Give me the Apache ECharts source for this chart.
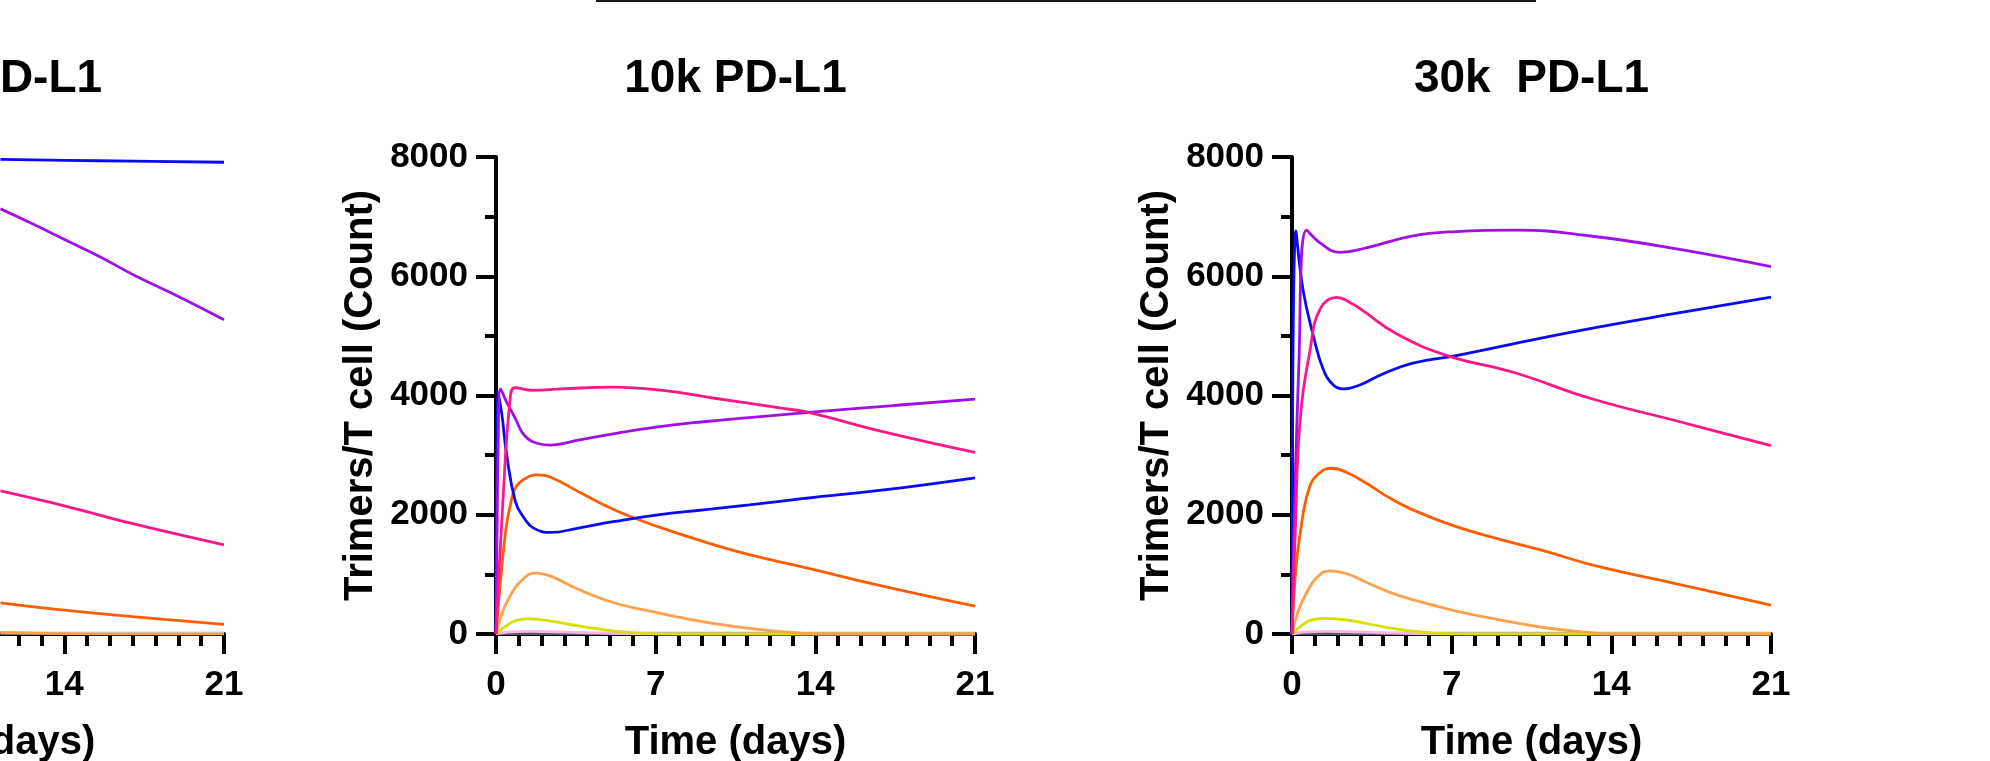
<!DOCTYPE html>
<html>
<head>
<meta charset="utf-8">
<script src="https://cdn.jsdelivr.net/npm/echarts@6/dist/echarts.min.js"></script>
<style>
html,body{margin:0;padding:0;background:#fff;}
#chart{width:1990px;height:761px;}
</style>
</head>
<body>
<div id="chart"></div>
<script>
// ---------- tick labels / titles ----------
const panelTitles = ['60k  PD-L1', '10k PD-L1', '30k  PD-L1'];
const xTicks = [0, 7, 14, 21];
const yTicks = [0, 2000, 4000, 6000, 8000];
const xName = 'Time (days)';
const yName = 'Trimers/T cell (Count)';

// ---------- panel 1 (left, partly visible) : [day, count] ----------
const p1_blue = [[11.2, 7960], [14, 7945], [17, 7930], [21, 7912]];
const p1_purple = [[11.2, 7130], [12.6, 6880], [14.1, 6600], [15.6, 6320], [17, 6030], [19, 5660], [21, 5270]];
const p1_pink = [[11.2, 2400], [14, 2150], [17, 1850], [21, 1495]];
const p1_orange = [[11.2, 522], [14, 400], [17, 290], [21, 160]];
const p1_lightOrange = [[11.2, 25], [14, 6], [16, 0], [21, 0]];
const p1_lightBlue = [[11.2, 15], [21, 15]];

// ---------- panel 2 : 10k PD-L1 ----------
const p2_blue = [[0, 0], [0.05, 4080], [0.25, 3700], [0.45, 3056], [0.85, 2220], [1.24, 1940], [1.63, 1780], [2.4, 1703], [3.6, 1776], [5.2, 1887], [7.1, 1998], [9.1, 2082], [11.1, 2166], [13.6, 2277], [17, 2416], [21, 2620]];
const p2_purple = [[0, 0], [0.1, 3300], [0.2, 4110], [0.45, 3900], [0.85, 3613], [1.24, 3334], [1.83, 3195], [2.4, 3168], [3.6, 3250], [5.2, 3362], [7.1, 3474], [9.1, 3560], [11.1, 3630], [13.6, 3713], [17, 3819], [21, 3940]];
const p2_pink = [[0, 0], [0.3, 2200], [0.61, 3900], [0.83, 4130], [1.62, 4086], [2.9, 4110], [5.1, 4142], [7.3, 4086], [9.5, 3958], [12.45, 3791], [13.6, 3724], [17, 3390], [21, 3045]];
const p2_orange = [[0, 0], [0.25, 1100], [0.45, 1800], [0.65, 2200], [0.85, 2450], [1.24, 2600], [1.83, 2670], [2.4, 2630], [3.6, 2390], [5.2, 2080], [7.1, 1800], [9.1, 1550], [11.1, 1330], [13.6, 1110], [17, 800], [21, 468]];
const p2_lightOrange = [[0, 0], [0.25, 330], [0.65, 660], [1.24, 940], [1.73, 1020], [2.4, 970], [3.6, 750], [5.2, 520], [7.1, 355], [9.1, 205], [11.1, 95], [13, 22], [14.2, 0], [21, 0]];
const p2_yellow = [[0, 0], [0.45, 135], [0.85, 225], [1.4, 255], [2.4, 215], [3.6, 135], [5.2, 50], [6.9, 5], [8, 0], [21, 0]];
const p2_lightPink = [[0, 0], [0.5, 30], [1.5, 45], [3, 30], [5, 10], [7, 0], [21, 0]];
const p2_gray = [[0, 0], [1, 15], [3, 15], [6, 0], [21, 0]];
const p2_lightBlue = [[0, 15], [21, 15]];

// ---------- panel 3 : 30k PD-L1 ----------
const p3_blue = [[0, 0], [0.17, 6760], [0.48, 5780], [0.93, 5010], [1.36, 4450], [1.8, 4180], [2.25, 4110], [3, 4180], [3.86, 4340], [5.25, 4540], [7.2, 4670], [9.7, 4865], [12.6, 5090], [17, 5390], [21, 5650]];
const p3_purple = [[0, 0], [0.3, 4500], [0.64, 6775], [1.23, 6560], [2.1, 6400], [3.3, 6480], [5.25, 6675], [7.2, 6750], [9.8, 6775], [13.1, 6675], [17, 6450], [21, 6160]];
const p3_pink = [[0, 0], [0.15, 1800], [0.35, 3550], [0.8, 4780], [1.23, 5450], [1.96, 5645], [2.5, 5570], [3.12, 5420], [4.6, 5030], [6.8, 4670], [9.7, 4390], [13.1, 3950], [17, 3560], [21, 3160]];
const p3_orange = [[0, 0], [0.15, 1000], [0.35, 1665], [0.75, 2440], [1.2, 2700], [1.73, 2780], [2.4, 2710], [3.3, 2520], [4.2, 2300], [5.25, 2090], [7.2, 1800], [9.2, 1580], [11.1, 1390], [13.1, 1165], [17, 830], [21, 484]];
const p3_lightOrange = [[0, 0], [0.25, 360], [0.65, 700], [1.1, 950], [1.63, 1060], [2.4, 1010], [3.3, 860], [4.2, 710], [5.25, 580], [7.2, 385], [9.2, 230], [11.1, 105], [13.1, 22], [14.1, 0], [21, 0]];
const p3_yellow = [[0, 0], [0.45, 150], [0.9, 240], [1.5, 262], [2.4, 235], [3.3, 175], [4.2, 105], [5.25, 50], [6.8, 5], [8, 0], [21, 0]];
const p3_lightPink = [[0, 0], [0.5, 30], [1.5, 45], [3, 30], [5, 10], [7, 0], [21, 0]];
const p3_gray = [[0, 0], [1, 15], [3, 15], [6, 0], [21, 0]];
const p3_lightBlue = [[0, 15], [21, 15]];

// ---------- styling ----------
const colors = {
  blue: '#0a0af5', purple: '#a010e6', pink: '#ff1688', orange: '#ff5e00',
  lightOrange: '#ffa04a', yellow: '#d8e000', lightPink: '#f6b6ea', gray: '#555555', lightBlue: '#c0d8f0'
};
const FONT = 'Liberation Sans, Arial, sans-serif';
const grids = [
  { left: -255, top: 157, width: 479, height: 477, outerBoundsMode: 'none', containLabel: false },
  { left: 496, top: 157, width: 479, height: 477, outerBoundsMode: 'none', containLabel: false },
  { left: 1292, top: 157, width: 479, height: 477, outerBoundsMode: 'none', containLabel: false }
];
const panels = [
  { blue: p1_blue, purple: p1_purple, pink: p1_pink, orange: p1_orange, lightOrange: p1_lightOrange, lightBlue: p1_lightBlue },
  { blue: p2_blue, purple: p2_purple, pink: p2_pink, orange: p2_orange, lightOrange: p2_lightOrange, yellow: p2_yellow, lightPink: p2_lightPink, gray: p2_gray, lightBlue: p2_lightBlue },
  { blue: p3_blue, purple: p3_purple, pink: p3_pink, orange: p3_orange, lightOrange: p3_lightOrange, yellow: p3_yellow, lightPink: p3_lightPink, gray: p3_gray, lightBlue: p3_lightBlue }
];
const drawOrder = ['lightBlue', 'gray', 'lightPink', 'yellow', 'lightOrange', 'orange', 'blue', 'purple', 'pink'];

const xAxes = [], yAxes = [], series = [], titles = [];
grids.forEach((g, i) => {
  xAxes.push({
    type: 'value', gridIndex: i, min: xTicks[0], max: xTicks[xTicks.length - 1], interval: 7,
    name: xName, nameLocation: 'middle', nameGap: 89,
    nameTextStyle: { fontFamily: FONT, fontWeight: 'bold', fontSize: 40, color: '#000' },
    axisLine: { show: true, onZero: false, lineStyle: { color: '#000', width: 4 } },
    axisTick: { show: true, length: 20, lineStyle: { color: '#000', width: 4 } },
    minorTick: { show: true, splitNumber: 7, length: 12, lineStyle: { color: '#000', width: 4 } },
    axisLabel: { margin: 34, fontFamily: FONT, fontWeight: 'bold', fontSize: 35, color: '#000', formatter: v => String(v) },
    splitLine: { show: false }, minorSplitLine: { show: false }
  });
  yAxes.push({
    type: 'value', gridIndex: i, min: yTicks[0], max: yTicks[yTicks.length - 1], interval: 2000,
    name: yName, nameLocation: 'middle', nameGap: 115, nameRotate: 90,
    nameTextStyle: { fontFamily: FONT, fontWeight: 'bold', fontSize: 40, color: '#000' },
    axisLine: { show: true, onZero: false, lineStyle: { color: '#000', width: 4 } },
    axisTick: { show: true, length: 20, lineStyle: { color: '#000', width: 4 } },
    minorTick: { show: true, splitNumber: 2, length: 11, lineStyle: { color: '#000', width: 4 } },
    axisLabel: { margin: 28, fontFamily: FONT, fontWeight: 'bold', fontSize: 35, color: '#000', formatter: v => String(v) },
    splitLine: { show: false }, minorSplitLine: { show: false }
  });
  titles.push({
    text: panelTitles[i], left: g.left + g.width / 2, top: 56, textAlign: 'center', padding: 0,
    textStyle: { fontFamily: FONT, fontWeight: 'bold', fontSize: 46, color: '#000' }
  });
  drawOrder.forEach(key => {
    const d = panels[i][key];
    if (!d) return;
    series.push({
      type: 'line', name: key, xAxisIndex: i, yAxisIndex: i, data: d,
      showSymbol: false, smooth: 0.45,
      lineStyle: { color: colors[key], width: key === 'lightBlue' ? 3 : 2.8 },
      itemStyle: { color: colors[key] }
    });
  });
});

const chart = echarts.init(document.getElementById('chart'), null, { renderer: 'canvas' });
chart.setOption({
  animation: false,
  backgroundColor: '#ffffff',
  title: titles,
  grid: grids,
  xAxis: xAxes,
  yAxis: yAxes,
  series: series,
  graphic: [{
    type: 'line', shape: { x1: 596, y1: 1, x2: 1536, y2: 1 },
    style: { stroke: '#1a1a1a', lineWidth: 2 }
  }]
});
</script>
</body>
</html>
